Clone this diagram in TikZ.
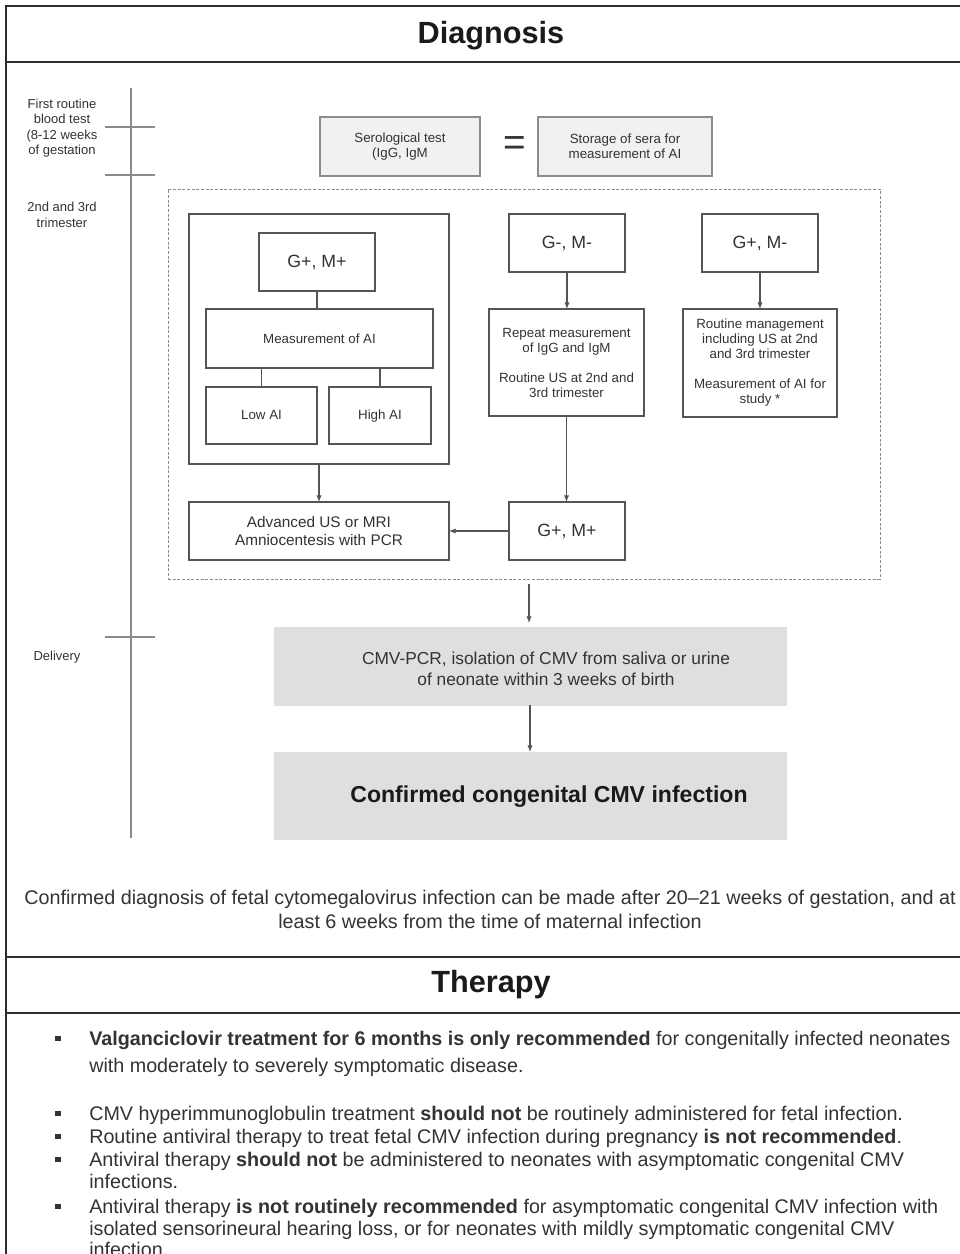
\documentclass[tikz,border=0pt]{standalone}
\usepackage{fontspec}
\setmainfont{Liberation Sans}
\usetikzlibrary{fit,arrows.meta,calc}
\definecolor{txt}{HTML}{333333}
\definecolor{ttl}{HTML}{1A1A1A}
\definecolor{bord}{HTML}{555555}
\definecolor{lbord}{HTML}{8C8C8C}
\definecolor{lightfill}{HTML}{F1F1F1}
\definecolor{midfill}{HTML}{DFDFDF}
\definecolor{tlcol}{HTML}{8A8A8A}
\definecolor{framecol}{HTML}{2E2E2E}
\begin{document}
\begin{tikzpicture}[x=0.75pt,y=-0.75pt,
  frame/.style={draw=framecol, line width=1.5pt},
  box/.style={draw=bord, line width=0.9pt, inner sep=0pt, outer sep=0pt, align=center, text=txt},
  lbox/.style={box, fill=lightfill, draw=lbord},
  gbox/.style={fill=midfill, draw=midfill, inner sep=0pt, outer sep=0pt},
  dbox/.style={draw=lbord, line width=0.7pt, dash pattern=on 2.2pt off 1.3pt, inner sep=0pt, outer sep=0pt},
  small/.style={font=\fontsize{10}{11.25}\selectfont},
  mid/.style={font=\fontsize{13.3}{15}\selectfont},
  gm/.style={box, mid, minimum width=87pt, minimum height=43.5pt},
  title/.style={font=\fontsize{23}{26}\selectfont\bfseries, text=ttl},
  tlab/.style={font=\fontsize{9.75}{11.6}\selectfont, text=txt, align=center, inner sep=0pt},
  tline/.style={draw=tlcol, line width=0.8pt},
  ln/.style={draw=bord, line width=0.8pt},
  arr/.style={draw=bord, line width=0.8pt, -{Latex[length=5pt,width=4pt]}},
  bt/.style={anchor=base west, inner sep=0pt, text=txt, font=\fontsize{14.8}{17}\selectfont},
  bsq/.style={fill=txt, inner sep=0pt, minimum size=3.9pt},
]
\useasboundingbox (0,0) rectangle (960,1254);
\fill[white] (0,0) rectangle (960,1254);

% frame and section lines
\draw[frame] (6,1262) -- (6,6) -- (966,6);
\draw[frame] (6,62) -- (966,62);
\draw[frame] (6,957) -- (966,957);
\draw[frame] (6,1013) -- (966,1013);

\node[title] (diagT) at (491,36) {Diagnosis};
\node[title] (therT) at (491,985) {Therapy};

% timeline
\coordinate (tlTop) at (131,88);
\coordinate (tlBot) at (131,838);
\draw[tline] (tlTop) -- (tlBot);
\coordinate (k1a) at (105,127); \coordinate (k1b) at (155,127);
\coordinate (k2a) at (105,175); \coordinate (k2b) at (155,175);
\coordinate (k3a) at (105,637); \coordinate (k3b) at (155,637);
\draw[tline] (k1a) -- (k1b);
\draw[tline] (k2a) -- (k2b);
\draw[tline] (k3a) -- (k3b);

\node[tlab] (lab1) at (62,128) {First routine\\blood test\\(8-12 weeks\\of gestation};
\node[tlab] (lab2) at (62,215) {2nd and 3rd\\trimester};
\node[tlab] (lab3) at (57,657) {Delivery};

% first test row
\node[lbox, small, minimum width=120pt, minimum height=44.25pt] (sero) at (400,146.5) {Serological test\\(IgG, IgM};
\node[font=\fontsize{29}{29}\selectfont, text=txt, inner sep=0pt] (eq) at (515,146) {=};
\node[lbox, small, minimum width=130.5pt, minimum height=44.25pt] (stor) at (625,146.5) {Storage of sera for\\measurement of AI};

% dashed region
\node[dbox, fit={(168,189)(880,579)}] (dash) {};

% left column
\node[box, fit={(189,214)(449,464)}] (big) {};
\node[gm] (gmA) at (317,262) {G+, M+};
\node[box, small, minimum width=170.25pt, minimum height=44.25pt] (meas) at (319.5,338.5) {Measurement of AI};
\node[box, small, text depth=0.25ex, minimum width=83.25pt, minimum height=42.75pt] (low) at (261.5,415.5) {Low AI};
\node[box, small, text depth=0.25ex, minimum width=76.5pt, minimum height=42.75pt] (high) at (380,415.5) {High AI};
\node[box, font=\fontsize{11.5}{13.5}\selectfont, minimum width=195pt, minimum height=43.5pt] (adv) at (319,531) {Advanced US or MRI\\Amniocentesis with PCR};

% middle column
\node[gm] (gmm) at (567,243) {G-, M-};
\node[box, small, minimum width=116.25pt, minimum height=80.25pt] (rep) at (566.5,362.5) {Repeat measurement\\of IgG and IgM\\[11.25pt]Routine US at 2nd and\\3rd trimester};
\node[gm] (gmB) at (567,531) {G+, M+};

% right column
\node[gm] (gpm) at (760,243) {G+, M-};
\node[box, small, minimum width=115.5pt, minimum height=81pt] (rout) at (760,363) {Routine management\\including US at 2nd\\and 3rd trimester\\[11.25pt]Measurement of AI for\\study *};

% bottom boxes
\node[gbox, fit={(274,627)(786,705)}] (cmv) {};
\node[text=txt, align=center, inner sep=0pt, font=\fontsize{13}{15.5}\selectfont] (cmvT) at (546,669) {CMV-PCR, isolation of CMV from saliva or urine\\of neonate within 3 weeks of birth};
\node[gbox, fit={(274,752)(786,839)}] (conf) {};
\node[text=ttl, inner sep=0pt, font=\fontsize{17.3}{20}\selectfont\bfseries] (confT) at (549,797) {Confirmed congenital CMV infection};

% connectors
\draw[ln] (gmA.south) -- (gmA.south |- meas.north);
\draw[ln] (low.north |- meas.south) -- (low.north);
\draw[ln] (high.north |- meas.south) -- (high.north);
\draw[arr] (big.south) -- (big.south |- adv.north);
\draw[arr] (gmm.south) -- (gmm.south |- rep.north);
\draw[arr] (gpm.south) -- (gpm.south |- rout.north);
\draw[arr] (rep.south) -- (rep.south |- gmB.north);
\draw[arr] (gmB.west) -- (adv.east);
\coordinate (dashOut) at (529,584);
\draw[arr, shorten >=3pt] (dashOut) -- (dashOut |- cmv.north);
\draw[arr] (cmv.south) -- (conf.north);

% footnote
\node[text=txt, align=center, inner sep=0pt, font=\fontsize{14.8}{18}\selectfont] (foot) at (490,909) {Confirmed diagnosis of fetal cytomegalovirus infection can be made after 20--21 weeks of gestation, and at\\least 6 weeks from the time of maternal infection};

% therapy bullets
\node[bsq] (b1) at (58,1038.5) {};
\node[bsq] (b2) at (58,1113.5) {};
\node[bsq] (b3) at (58,1136.5) {};
\node[bsq] (b4) at (58,1159.5) {};
\node[bsq] (b5) at (58,1206.5) {};
\node[bt] (t1a) at (89,1045) {\textbf{Valganciclovir treatment for 6 months is only recommended} for congenitally infected neonates};
\node[bt] (t1b) at (89,1072) {with moderately to severely symptomatic disease.};
\node[bt] (t2) at (89,1120) {CMV hyperimmunoglobulin treatment \textbf{should not} be routinely administered for fetal infection.};
\node[bt] (t3) at (89,1143) {Routine antiviral therapy to treat fetal CMV infection during pregnancy \textbf{is not recommended}.};
\node[bt] (t4a) at (89,1166) {Antiviral therapy \textbf{should not} be administered to neonates with asymptomatic congenital CMV};
\node[bt] (t4b) at (89,1188) {infections.};
\node[bt] (t5a) at (89,1213) {Antiviral therapy \textbf{is not routinely recommended} for asymptomatic congenital CMV infection with};
\node[bt] (t5b) at (89,1235) {isolated sensorineural hearing loss, or for neonates with mildly symptomatic congenital CMV};
\node[bt] (t5c) at (89,1256) {infection.};
\end{tikzpicture}
\end{document}
